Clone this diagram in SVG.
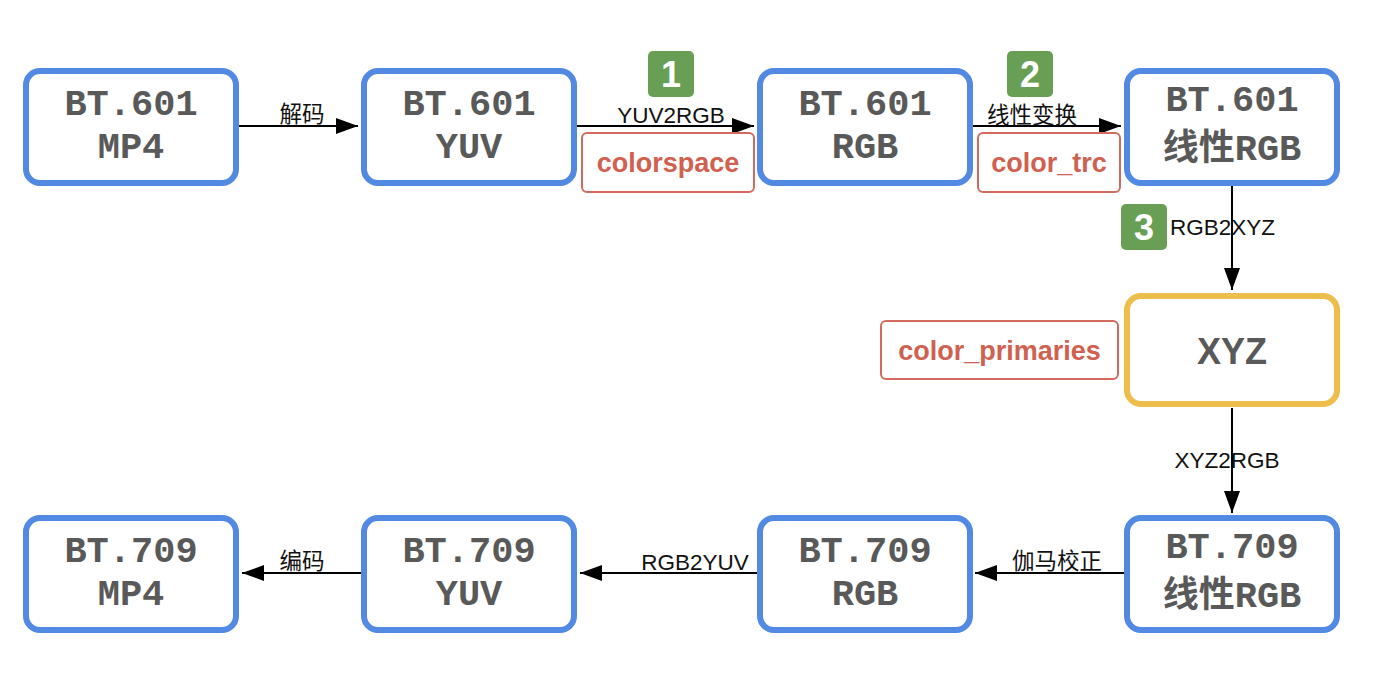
<svg xmlns="http://www.w3.org/2000/svg" width="1378" height="686" viewBox="0 0 1378 686">
<style>
.box{fill:#fff;stroke:#5189E3;stroke-width:6}
.xyz{fill:#fff;stroke:#EDBE4C;stroke-width:6}
.nt{font-family:"Liberation Mono","Courier New",monospace;font-weight:bold;font-size:37px;fill:#595959;text-anchor:middle}
.cjk{font-family:"Noto Sans CJK SC",sans-serif;font-size:36px;font-weight:bold}
.xt{font-family:"Liberation Sans",Arial,sans-serif;font-weight:bold;font-size:36px;fill:#595959;text-anchor:middle}
.tag{fill:#fff;stroke:#D26B5E;stroke-width:2}
.tt{font-family:"Liberation Sans",Arial,sans-serif;font-weight:bold;font-size:27px;fill:#D0604F;text-anchor:middle}
.badge{fill:#689F55}
.bt{font-family:"Liberation Sans",Arial,sans-serif;font-weight:bold;font-size:36px;fill:#fff;text-anchor:middle}
.lbl{font-family:"Liberation Sans","Noto Sans CJK SC",sans-serif;font-size:22.5px;fill:#111;text-anchor:middle}
.edge{stroke:#000;stroke-width:2;fill:none}
</style>
<defs>
<marker id="ah" viewBox="0 0 22 16" refX="22" refY="8" markerWidth="22" markerHeight="16" markerUnits="userSpaceOnUse" orient="auto">
<path d="M0,0 L22,8 L0,16 z" fill="#000"/>
</marker>
</defs>
<rect width="1378" height="686" fill="#fff"/>
<g id="connectors">
<line class="edge" x1="239" y1="126" x2="358" y2="126" marker-end="url(#ah)"/>
<line class="edge" x1="577" y1="126" x2="754" y2="126" marker-end="url(#ah)"/>
<line class="edge" x1="973" y1="126" x2="1121" y2="126" marker-end="url(#ah)"/>
<line class="edge" x1="1232" y1="186" x2="1232" y2="290" marker-end="url(#ah)"/>
<line class="edge" x1="1232" y1="408" x2="1232" y2="513" marker-end="url(#ah)"/>
<line class="edge" x1="1124" y1="573" x2="975" y2="573" marker-end="url(#ah)"/>
<line class="edge" x1="757" y1="573" x2="580" y2="573" marker-end="url(#ah)"/>
<line class="edge" x1="361" y1="573" x2="242" y2="573" marker-end="url(#ah)"/>
<text class="lbl" x="302" y="122">解码</text>
<text class="lbl" x="671" y="123">YUV2RGB</text>
<text class="lbl" x="1032" y="123">线性变换</text>
<text class="lbl" x="1170" y="235" style="text-anchor:start">RGB2XYZ</text>
<text class="lbl" x="1227" y="468">XYZ2RGB</text>
<text class="lbl" x="1057" y="569">伽马校正</text>
<text class="lbl" x="695" y="570">RGB2YUV</text>
<text class="lbl" x="302" y="569">编码</text>
</g>
<g id="badge1"><rect class="badge" x="648" y="51" width="46" height="46" rx="5"/><text class="bt" x="671" y="87">1</text></g>
<g id="badge2"><rect class="badge" x="1007" y="51" width="46" height="46" rx="5"/><text class="bt" x="1030" y="87">2</text></g>
<g id="badge3"><rect class="badge" x="1121" y="204" width="46" height="46" rx="5"/><text class="bt" x="1144" y="240">3</text></g>
<g id="tag-colorspace"><rect class="tag" x="582" y="133" width="172" height="59" rx="5"/><text class="tt" x="668" y="172">colorspace</text></g>
<g id="tag-color_trc"><rect class="tag" x="978" y="133" width="142" height="59" rx="5"/><text class="tt" x="1049" y="172">color_trc</text></g>
<g id="tag-color_primaries"><rect class="tag" x="881" y="321" width="237" height="58" rx="5"/><text class="tt" x="999.5" y="360">color_primaries</text></g>
<g id="n601mp4"><rect class="box" x="26" y="71" width="210" height="112" rx="14"/><text class="nt" x="131" y="115">BT.601</text><text class="nt" x="131" y="158">MP4</text></g>
<g id="n601yuv"><rect class="box" x="364" y="71" width="210" height="112" rx="14"/><text class="nt" x="469" y="115">BT.601</text><text class="nt" x="469" y="158">YUV</text></g>
<g id="n601rgb"><rect class="box" x="760" y="71" width="210" height="112" rx="14"/><text class="nt" x="865" y="115">BT.601</text><text class="nt" x="865" y="158">RGB</text></g>
<g id="n601lin"><rect class="box" x="1127" y="71" width="210" height="112" rx="14"/><text class="nt" x="1232" y="111">BT.601</text><text class="nt" x="1232" y="160"><tspan class="cjk">线性</tspan>RGB</text></g>
<g id="nxyz"><rect class="xyz" x="1127" y="296" width="210" height="108" rx="14"/><text class="xt" x="1232" y="364">XYZ</text></g>
<g id="n709lin"><rect class="box" x="1127" y="518" width="210" height="112" rx="14"/><text class="nt" x="1232" y="558">BT.709</text><text class="nt" x="1232" y="607"><tspan class="cjk">线性</tspan>RGB</text></g>
<g id="n709rgb"><rect class="box" x="760" y="518" width="210" height="112" rx="14"/><text class="nt" x="865" y="562">BT.709</text><text class="nt" x="865" y="605">RGB</text></g>
<g id="n709yuv"><rect class="box" x="364" y="518" width="210" height="112" rx="14"/><text class="nt" x="469" y="562">BT.709</text><text class="nt" x="469" y="605">YUV</text></g>
<g id="n709mp4"><rect class="box" x="26" y="518" width="210" height="112" rx="14"/><text class="nt" x="131" y="562">BT.709</text><text class="nt" x="131" y="605">MP4</text></g>
</svg>
